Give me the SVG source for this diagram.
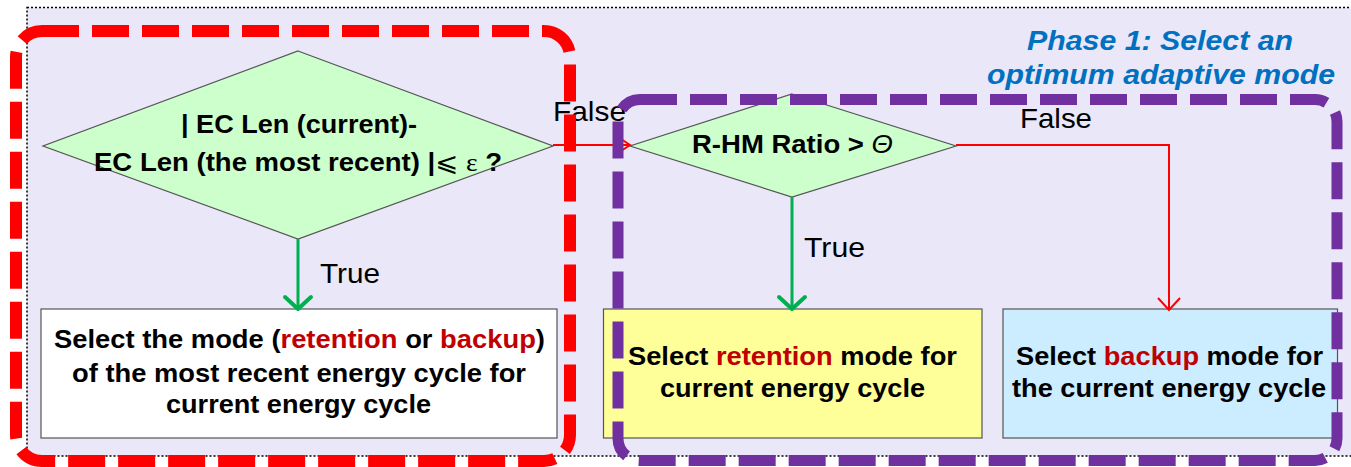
<svg xmlns="http://www.w3.org/2000/svg" width="1351" height="467" viewBox="0 0 1351 467">
<defs>
<style>
.t{font-family:"Liberation Sans Narrow","Liberation Sans",Arial,sans-serif;font-weight:bold;font-size:26px;fill:#000;text-anchor:start}
.lbl{font-family:"Liberation Sans Narrow","Liberation Sans",Arial,sans-serif;font-size:28px;fill:#000}
.hl{fill:#C00000}
.dia{fill:#CCFFCC;stroke:#555;stroke-width:1.2}
.box{stroke:#555;stroke-width:1.2}
.g{stroke:#00B050;stroke-width:3;fill:none}
.gh{stroke:#00B050;stroke-width:4;fill:none;stroke-linecap:round;stroke-linejoin:round}
.r{stroke:#FF0000;stroke-width:2;fill:none}
.phase{font-family:"Liberation Sans Narrow","Liberation Sans",Arial,sans-serif;font-weight:bold;font-style:italic;font-size:28px;fill:#0070C0}
</style>
</defs>
<rect x="27" y="7.5" width="1340" height="448.5" fill="#E9E7F8" stroke="#000" stroke-width="1.5" stroke-dasharray="2 2"/>
<g id="phase-title">
<text class="phase" x="1027" y="50" textLength="266" lengthAdjust="spacingAndGlyphs">Phase 1: Select an</text>
<text class="phase" x="987" y="84" textLength="348" lengthAdjust="spacingAndGlyphs">optimum adaptive mode</text>
</g>
<g id="decision-ec">
<polygon class="dia" points="298,51 553,146 298,239 43,146"/>
<text class="t" x="181" y="133" textLength="236" lengthAdjust="spacingAndGlyphs">| EC Len (current)-</text>
<text class="t" x="94" y="171" textLength="408" lengthAdjust="spacingAndGlyphs">EC Len (the most recent) |<tspan style="font-family:'DejaVu Sans',sans-serif;font-weight:normal">⩽</tspan> <tspan style="font-family:'Liberation Serif',serif;font-weight:normal">ε</tspan> ?</text>
</g>
<g id="decision-rhm">
<polygon class="dia" points="792,94 956,146 792,197 630,146"/>
<text class="t" x="692" y="153" textLength="201" lengthAdjust="spacingAndGlyphs">R-HM Ratio &gt; <tspan style="font-style:italic;font-weight:normal">Θ</tspan></text>
</g>
<g id="box-previous">
<rect class="box" x="41" y="309" width="516" height="129" fill="#FFFFFF"/>
<text class="t" x="54" y="348" textLength="491" lengthAdjust="spacingAndGlyphs">Select the mode (<tspan class="hl">retention</tspan> or <tspan class="hl">backup</tspan>)</text>
<text class="t" x="72" y="382" textLength="454" lengthAdjust="spacingAndGlyphs">of the most recent energy cycle for</text>
<text class="t" x="166" y="413" textLength="265" lengthAdjust="spacingAndGlyphs">current energy cycle</text>
</g>
<g id="box-retention">
<rect class="box" x="603.5" y="309" width="378.5" height="129" fill="#FFFF99"/>
<text class="t" x="628" y="365" textLength="329" lengthAdjust="spacingAndGlyphs">Select <tspan class="hl">retention</tspan> mode for</text>
<text class="t" x="660" y="397" textLength="265" lengthAdjust="spacingAndGlyphs">current energy cycle</text>
</g>
<g id="box-backup">
<rect class="box" x="1003" y="309" width="334.5" height="129" fill="#CCECFF"/>
<text class="t" x="1016" y="365" textLength="307" lengthAdjust="spacingAndGlyphs">Select <tspan class="hl">backup</tspan> mode for</text>
<text class="t" x="1012" y="397" textLength="314" lengthAdjust="spacingAndGlyphs">the current energy cycle</text>
</g>
<g id="connectors">
<line class="g" x1="298" y1="239" x2="298" y2="308"/>
<polyline class="gh" points="285,297 298,309 311,297"/>
<line class="g" x1="792" y1="197" x2="792" y2="308"/>
<polyline class="gh" points="779,297 792,309 805,297"/>
<line class="r" x1="553" y1="145" x2="629" y2="145"/>
<polyline class="r" points="621,139 630,145 621,151"/>
<polyline class="r" points="956,145 1169,145 1169,309"/>
<polyline class="r" points="1158,298 1169,310 1180,298"/>
<text class="lbl" x="320" y="283" textLength="60" lengthAdjust="spacingAndGlyphs">True</text>
<text class="lbl" x="804" y="257" textLength="61" lengthAdjust="spacingAndGlyphs">True</text>
<text class="lbl" x="553" y="121" textLength="73" lengthAdjust="spacingAndGlyphs">False</text>
<text class="lbl" x="1020" y="128" textLength="72" lengthAdjust="spacingAndGlyphs">False</text>
</g>
<g id="frame-phase-a">
<rect x="16" y="31" width="554" height="430" rx="26" fill="none" stroke="#FF0000" stroke-width="12" stroke-dasharray="37 13"/>
<polygon points="292,461 288,467 296,467" fill="#FF0000"/>
</g>
<g id="frame-phase-b">
<rect x="618" y="99.5" width="719" height="361" rx="22" fill="none" stroke="#7030A0" stroke-width="11" stroke-dasharray="37 13"/>
</g>
</svg>
